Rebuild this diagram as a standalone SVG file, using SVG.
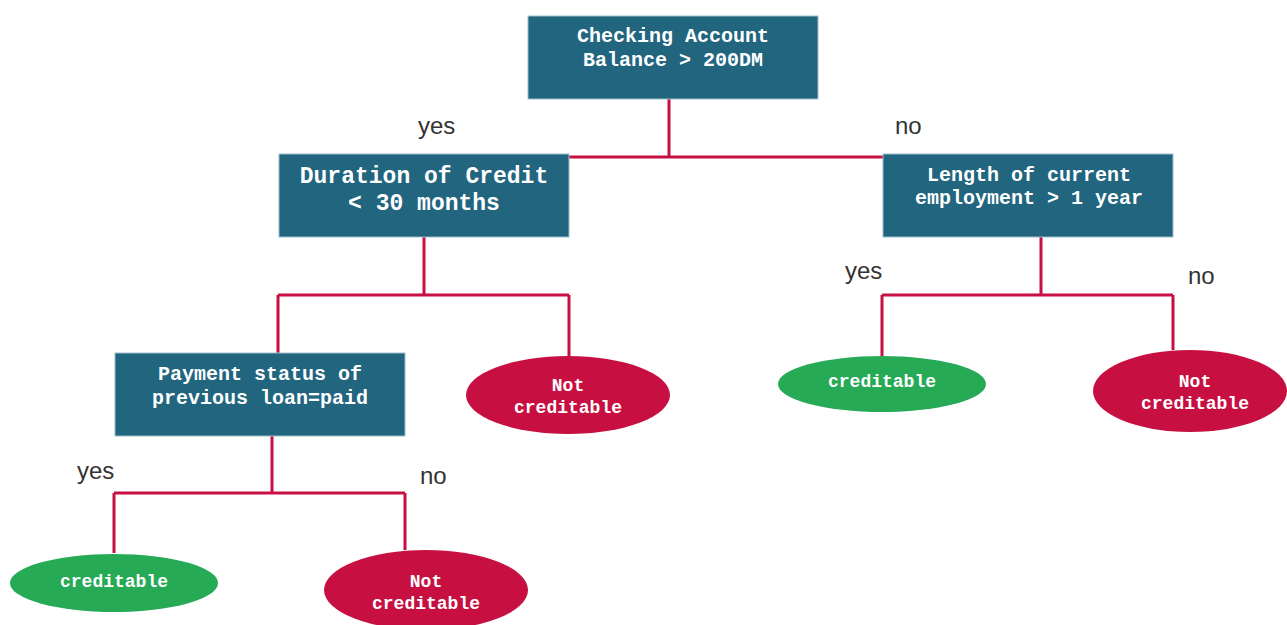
<svg xmlns="http://www.w3.org/2000/svg" width="1287" height="625" viewBox="0 0 1287 625">
<style>
.box{fill:#21657f;stroke:#9fbfcc;stroke-width:1}
.red{fill:#c80f41}
.green{fill:#27aa56}
.t{font-family:"Liberation Mono","Courier New",monospace;font-weight:bold;fill:#ffffff;text-anchor:middle;font-size:20px}
.lbl{font-family:"Liberation Sans",Arial,sans-serif;fill:#333333;font-size:24px}
.c{stroke:#c80f41;stroke-width:3;fill:none}
</style>
<rect width="1287" height="625" fill="#ffffff"/>
<g id="connectors">
<path class="c" d="M669,99 V157 M569,157 H883"/>
<path class="c" d="M424,237 V295 M278,295 H569 M278,295 V353 M569,295 V356"/>
<path class="c" d="M1041,237 V295 M882,295 H1173 M882,295 V356 M1173,295 V350"/>
<path class="c" d="M272,436 V493 M114,493 H405 M114,493 V553 M405,493 V550"/>
</g>
<g id="labels">
<text class="lbl" x="418" y="134">yes</text>
<text class="lbl" x="895" y="134">no</text>
<text class="lbl" x="845" y="279">yes</text>
<text class="lbl" x="1188" y="284">no</text>
<text class="lbl" x="77" y="479">yes</text>
<text class="lbl" x="420" y="484">no</text>
</g>
<g id="n1"><rect class="box" x="528" y="16" width="290" height="83"/>
<text class="t" x="673" y="42">Checking Account</text><text class="t" x="673" y="66">Balance &gt; 200DM</text></g>
<g id="n2"><rect class="box" x="279" y="154" width="290" height="83"/>
<text class="t" x="424" y="183" style="font-size:23px">Duration of Credit</text><text class="t" x="424" y="210" style="font-size:23px">&lt; 30 months</text></g>
<g id="n3"><rect class="box" x="883" y="154" width="290" height="83"/>
<text class="t" x="1029" y="181">Length of current</text><text class="t" x="1029" y="204">employment &gt; 1 year</text></g>
<g id="n4"><rect class="box" x="115" y="353" width="290" height="83"/>
<text class="t" x="260" y="380">Payment status of</text><text class="t" x="260" y="404">previous loan=paid</text></g>
<g id="n5"><ellipse class="red" cx="568" cy="395" rx="102" ry="39"/>
<text class="t" x="568" y="391" style="font-size:18px">Not</text><text class="t" x="568" y="413" style="font-size:18px">creditable</text></g>
<g id="n6"><ellipse class="green" cx="882" cy="384" rx="104" ry="28"/>
<text class="t" x="882" y="387" style="font-size:18px">creditable</text></g>
<g id="n7"><ellipse class="red" cx="1190" cy="391" rx="97" ry="41"/>
<text class="t" x="1195" y="387" style="font-size:18px">Not</text><text class="t" x="1195" y="409" style="font-size:18px">creditable</text></g>
<g id="n8"><ellipse class="green" cx="114" cy="583" rx="104" ry="29"/>
<text class="t" x="114" y="587" style="font-size:18px">creditable</text></g>
<g id="n9"><ellipse class="red" cx="426" cy="590" rx="102" ry="40"/>
<text class="t" x="426" y="587" style="font-size:18px">Not</text><text class="t" x="426" y="609" style="font-size:18px">creditable</text></g>
</svg>
